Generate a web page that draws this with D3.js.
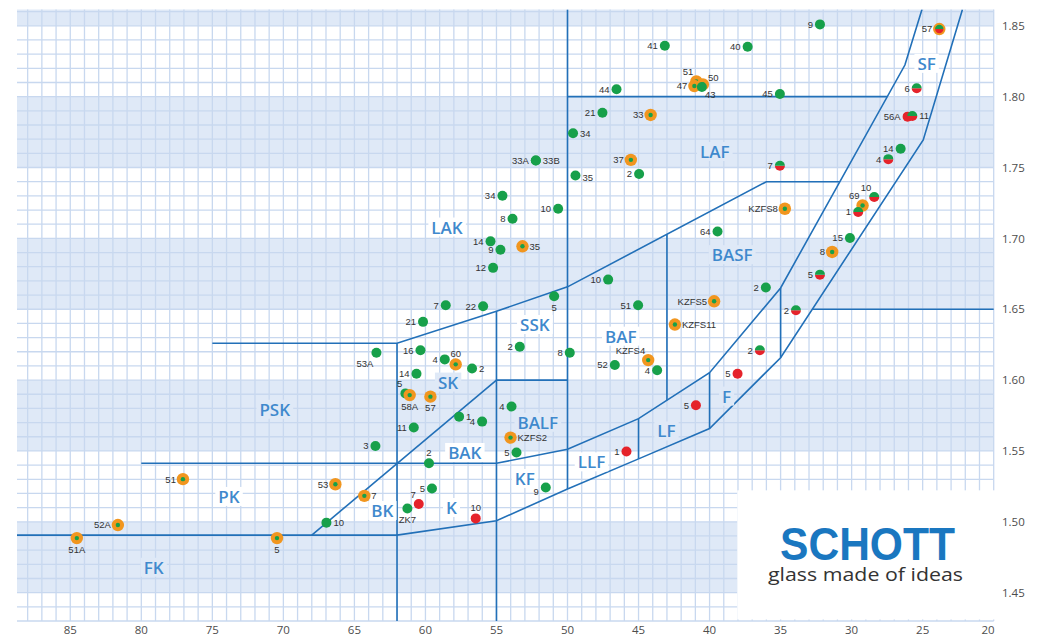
<!DOCTYPE html>
<html><head><meta charset="utf-8">
<script src="https://cdn.jsdelivr.net/npm/d3@7"></script>
<style>html,body{margin:0;padding:0;background:#fff;overflow:hidden}</style>
</head><body><svg id="c" width="1037" height="637"></svg>
<script>
// ---------- DATA ----------
const abbeTicks = [85, 80, 75, 70, 65, 60, 55, 50, 45, 40, 35, 30, 25, 20];
const indexTicks = [1.85, 1.80, 1.75, 1.70, 1.65, 1.60, 1.55, 1.50, 1.45];
const bandRanges = [[1.85, 1.90], [1.75, 1.80], [1.65, 1.70], [1.55, 1.60], [1.45, 1.50]];

const glassNames = ["41","44","21","33","34","33A","33B","37","35","2","34","10","8",
  "9","40","51","47","50","43","45","57","6","56A","11","14","4","7","10","69","1","KZFS8",
  "15","8","5","2","2","64","KZFS5","2","5","5","KZFS11",
  "14","9","35","12","10","5","51","7","22","21","2","8","53A","16","4","60","2","14",
  "KZFS4","4","52","5","58A","57","4","1","4","11","3","2","53","7","5","7","ZK7","10","10",
  "KZFS2","5","9","1","51","52A","51A","5"];
const abbeNumbers = [43.15,46.55,47.54,44.15,49.61,52.23,52.23,45.54,49.44,44.96,54.58,50.66,53.87,
  32.23,37.32,40.93,41.07,40.47,40.54,35.05,23.83,25.42,26.06,25.73,26.55,27.42,35.05,28.41,29.23,29.54,34.70,
  30.12,31.37,32.23,33.92,36.04,39.44,39.68,36.46,38.03,40.96,42.44,
  55.42,54.72,53.17,55.24,47.14,50.94,45.03,58.57,55.94,60.17,53.36,49.84,63.45,60.35,58.64,57.87,56.72,60.63,
  44.32,43.69,46.67,61.41,61.11,59.65,53.94,57.63,56.01,60.82,63.52,59.75,66.34,64.30,59.54,60.47,61.27,56.46,66.97,
  54.01,53.59,51.53,45.85,77.07,81.65,84.54,70.45];
const refractiveIndices = [1.8359,1.8052,1.7887,1.7871,1.7742,1.7549,1.7549,1.7554,1.7444,1.7454,1.7301,1.7209,1.7139,
  1.8510,1.8352,1.8107,1.8075,1.8086,1.8068,1.8019,1.8477,1.8059,1.7859,1.7864,1.7632,1.7559,1.7512,1.7292,1.7232,1.7186,1.7209,
  1.7003,1.6904,1.6744,1.6493,1.6653,1.7049,1.6556,1.6211,1.6045,1.5822,1.6392,
  1.6979,1.6920,1.6944,1.6792,1.6709,1.6592,1.6528,1.6528,1.6521,1.6411,1.6235,1.6193,1.6193,1.6211,1.6146,1.6111,1.6082,1.6045,
  1.6141,1.6070,1.6106,1.5906,1.5894,1.5883,1.5813,1.5742,1.5707,1.5665,1.5535,1.5413,1.5265,1.5183,1.5235,1.5125,1.5094,1.5024,1.4994,
  1.5594,1.5489,1.5242,1.5496,1.5301,1.4977,1.4885,1.4885];
// g = green, o = orange ring, h = green/red, r = red, oh = orange ring with green/red
const glassKinds = ["g","g","g","o","g","g","g","o","g","g","g","g","g",
  "g","g","o","o","o","g","g","oh","h","r","h","g","h","h","h","o","h","o",
  "g","o","h","h","g","g","o","h","r","r","o",
  "g","g","o","g","g","g","g","g","g","g","g","g","g","g","g","o","g","g",
  "o","g","g","g","o","o","g","g","g","g","g","g","o","o","g","r","g","r","g",
  "o","g","g","r","o","o","o","o"];

const regionNames = ["LAF","SF","LAK","BASF","SSK","BAF","SK","PSK","BALF","F","LF","BAK","LLF","PK","KF","BK","K","FK"];
const regionAbbe = [39.63,24.72,58.48,38.41,52.30,46.25,58.41,70.61,52.09,38.8,43.03,57.23,48.31,73.83,53.01,63.03,58.17,79.13];
const regionIndex = [1.7613,1.8235,1.708,1.6885,1.6392,1.631,1.5986,1.5794,1.5702,1.5887,1.5641,1.5489,1.5423,1.5179,1.5306,1.5080,1.5101,1.4679];

// boundary polylines [abbe, index]
const boundaryLower = [[88.75,1.4906],[62,1.4906],[55,1.5007],[50,1.5232],[45,1.5444],[40,1.5658],[35,1.6158],[24.96,1.7695],[22.2,1.8615]];
const boundaryUpper = [[80,1.5413],[55,1.5413],[50,1.5512],[45,1.5728],[40,1.6052],[35,1.665],[26.25,1.8223],[25.05,1.8615]];
const boundaryBK = [[68,1.4906],[55,1.60]];
const boundaryCrown = [[75,1.626],[62,1.626],[55,1.6486],[50,1.6658],[36,1.740],[30.83,1.740]];
const boundaryLAF = [[50,1.80],[27.49,1.80]];
const boundarySSK = [[55,1.60],[50,1.60]];
const boundarySF = [[32.77,1.65],[20,1.65]];
const boundaryV50 = [[50,1.8615],[50,1.5232]];
const boundaryV55 = [[55,1.6486],[55,1.43]];
const boundaryV62 = [[62,1.626],[62,1.43]];
const boundaryV43 = [[43,1.7029],[43,1.5858]];
const boundaryV45 = [[45,1.5728],[45,1.5444]];
const boundaryV40 = [[40,1.6052],[40,1.5658]];
const boundaryV35 = [[35,1.665],[35,1.6158]];

// ---------- LAYOUT ----------
const labelSides = ["l","l","l","l","r","l","r","l","r2","l","l","l","l",
  "l","l","tl","l","tr","br","l","l","l","l","r","l","l","l","tl","tl","l","l",
  "l","l","l","l","l","l","l","l","l","l","r",
  "l","l","r","l","l","b","l","l","l","l","l","l","bl","l","l","t","r","l",
  "tl","l","l","tl","b","b","l","r","l","l","l","t","l","r","l","tl","b","t","r",
  "r","l","lb","l","l","l","b","b"];
const sideOffsets = {
  l: [-7, 3.4, "end"], r: [7, 3.4, "start"], r2: [7, 5.5, "start"],
  t: [0, -7, "middle"], b: [0, 14.5, "middle"],
  tl: [-3, -6, "end"], tr: [5, -3, "start"], br: [3, 10.5, "start"],
  bl: [-3, 14, "end"], lb: [-7, 7, "end"]
};

const W = 1037, H = 637;
const X0 = 17, X1 = 993.7, Y0 = 9.5, Y1 = 621;
const x = d3.scaleLinear().domain([88.75, 20]).range([X0, X1]);
const y = d3.scaleLinear().domain([1.43, 1.8615]).range([Y1, Y0]);

const BAND = "#dfe9f7", GRID = "#c8d8ef", LINE = "#2270b8";
const GREEN = "#17a04a", RED = "#e5232b", ORANGE = "#f1961f";

const svg = d3.select("#c");
svg.append("defs").append("clipPath").attr("id", "plot")
  .append("rect").attr("x", X0).attr("y", Y0).attr("width", X1 - X0 + 2).attr("height", Y1 - Y0 + 1);

const g = svg.append("g");
// bands
g.append("g").attr("clip-path", "url(#plot)").selectAll("rect").data(bandRanges).join("rect")
  .attr("x", X0).attr("width", X1 - X0)
  .attr("y", d => y(d[1])).attr("height", d => y(d[0]) - y(d[1]))
  .attr("fill", BAND);

// grid
const vGrid = d3.range(21, 89);
const hGrid = d3.range(143, 187).map(k => k / 100);
const gridG = g.append("g").attr("stroke", GRID).attr("stroke-width", 1.3);
gridG.selectAll("line.v").data(vGrid.concat([20])).join("line").attr("class", "v")
  .attr("x1", d => x(d)).attr("x2", d => x(d)).attr("y1", Y0).attr("y2", Y1);
gridG.selectAll("line.h").data(hGrid).join("line").attr("class", "h")
  .attr("x1", X0).attr("x2", X1).attr("y1", d => y(d)).attr("y2", d => y(d));

// white logo area
g.append("rect").attr("x", x(38.05)).attr("y", y(1.5222))
  .attr("width", X1 + 3 - x(38.05)).attr("height", Y1 - 1.5 - y(1.5222)).attr("fill", "#fff");

// boundaries
const line = d3.line().x(d => x(d[0])).y(d => y(d[1]));
const boundaries = [boundaryLower, boundaryUpper, boundaryBK, boundaryCrown, boundaryLAF, boundarySSK, boundarySF,
  boundaryV50, boundaryV55, boundaryV62, boundaryV43, boundaryV45, boundaryV40, boundaryV35];
g.append("g").attr("clip-path", "url(#plot)").selectAll("path").data(boundaries).join("path")
  .attr("d", line).attr("fill", "none").attr("stroke", LINE).attr("stroke-width", 1.6);

// region labels
const inBand = n => bandRanges.some(b => n >= b[0] && n <= b[1]);
const regG = g.append("g");
regionNames.forEach((name, i) => {
  const cx = x(regionAbbe[i]), cy = y(regionIndex[i]);
  const rect = regG.append("rect");
  const t = regG.append("text").attr("x", cx).attr("y", cy)
    .attr("text-anchor", "middle").attr("dominant-baseline", "central")
    .attr("font-family", "'Open Sans', sans-serif").attr("font-weight", 600)
    .attr("font-size", 17).attr("fill", "#3f89cd").text(name);
  const bb = t.node().getBBox();
  rect.attr("x", bb.x - 3).attr("y", bb.y + 2).attr("width", bb.width + 6).attr("height", bb.height - 4)
    .attr("fill", inBand(regionIndex[i]) ? BAND : "#fff");
});

// dots
const dotG = g.append("g");
const R = 5, RO = 6.2;
const halfTop = r => `M${-r},0A${r},${r} 0 0 1 ${r},0Z`;
const halfBot = r => `M${-r},0A${r},${r} 0 0 0 ${r},0Z`;
glassNames.forEach((name, i) => {
  const k = glassKinds[i];
  const gg = dotG.append("g").attr("transform", `translate(${x(abbeNumbers[i])},${y(refractiveIndices[i])})`);
  if (k === "g") gg.append("circle").attr("r", R).attr("fill", GREEN);
  else if (k === "r") gg.append("circle").attr("r", R).attr("fill", RED);
  else if (k === "h") {
    gg.append("path").attr("d", halfBot(R)).attr("fill", RED);
    gg.append("path").attr("d", halfTop(R)).attr("fill", GREEN);
  } else if (k === "o") {
    gg.append("circle").attr("r", RO).attr("fill", ORANGE);
    gg.append("circle").attr("r", 2.2).attr("fill", GREEN);
  } else if (k === "oh") {
    gg.append("circle").attr("r", RO).attr("fill", ORANGE);
    gg.append("path").attr("d", halfBot(4.2)).attr("fill", RED);
    gg.append("path").attr("d", halfTop(4.2)).attr("fill", GREEN);
  }
});
// dot labels
glassNames.forEach((name, i) => {
  const o = sideOffsets[labelSides[i]];
  dotG.append("text")
    .attr("x", x(abbeNumbers[i]) + o[0]).attr("y", y(refractiveIndices[i]) + o[1])
    .attr("text-anchor", o[2])
    .attr("font-family", "'Liberation Sans Narrow','Liberation Sans', sans-serif")
    .attr("font-size", 9.5).attr("fill", "#333").text(name);
});

// axes labels
const axG = g.append("g").attr("font-family", "'Open Sans', sans-serif").attr("font-size", 11.5).attr("fill", "#4d4d4d");
axG.selectAll("text.b").data(abbeTicks).join("text").attr("class", "b")
  .attr("x", (d, i) => i === abbeTicks.length - 1 ? x(d) + 1 : x(d))
  .attr("y", 634).attr("text-anchor", (d, i) => i === abbeTicks.length - 1 ? "end" : "middle")
  .text(d => d);
axG.selectAll("text.r").data(indexTicks).join("text").attr("class", "r")
  .attr("x", 1002).attr("y", d => y(d)).attr("dy", "0.36em")
  .text(d => d.toFixed(2));

// logo
g.append("text").attr("x", 780).attr("y", 560)
  .attr("font-family", "'Liberation Sans', Arial, sans-serif").attr("font-weight", "bold")
  .attr("font-size", 46).attr("fill", "#1a77c0")
  .attr("textLength", 175).attr("lengthAdjust", "spacingAndGlyphs").text("SCHOTT");
g.append("text").attr("x", 768).attr("y", 581)
  .attr("font-family", "'Open Sans', sans-serif").attr("font-size", 19).attr("fill", "#333")
  .attr("textLength", 195).attr("lengthAdjust", "spacingAndGlyphs").text("glass made of ideas");
</script>
</body></html>
